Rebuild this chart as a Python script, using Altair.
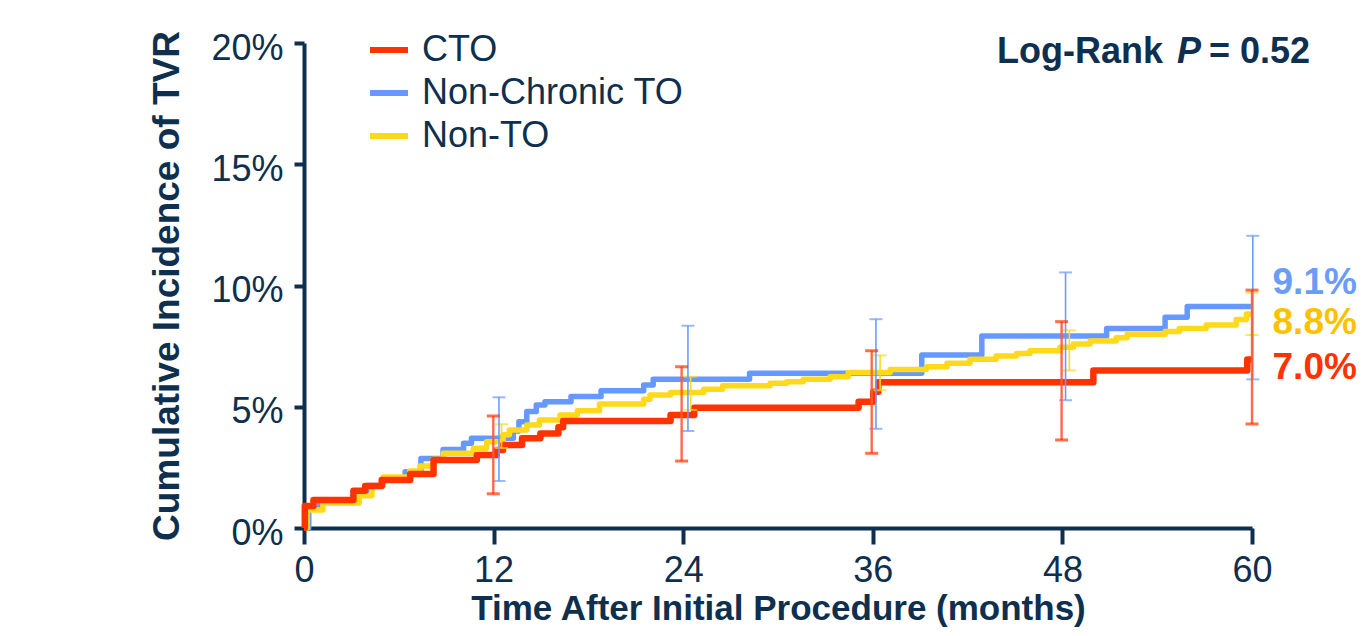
import altair as alt
import pandas as pd

NAVY = "#0e2f4e"
FONT = "Liberation Sans"

series_names = ["CTO", "Non-Chronic TO", "Non-TO"]
line_colors = ["#ff3300", "#6699ff", "#ffd91a"]
label_colors = ["#ff3300", "#6b9cf8", "#ffc000"]

# Kaplan-Meier style step curves (months, cumulative %)
cto_t = [0, 0.05, 0.6, 3.13, 3.87, 4.92, 6.72, 8.2, 10.94, 12.2, 12.6, 13.8, 14.96,
         16.1, 16.4, 23.2, 24.7, 35.1, 36.03, 36.35, 49.96, 59.7, 60]
cto_pct = [0, 0.91, 1.15, 1.54, 1.73, 1.98, 2.23, 2.8, 3.01, 3.22, 3.42, 3.7, 3.9,
           4.15, 4.41, 4.66, 4.96, 5.21, 5.62, 6.01, 6.49, 6.95, 6.95]

nct_t = [0, 0.3, 1.0, 3.1, 4.0, 5.0, 6.4, 7.4, 8.8, 10.1, 10.6, 13.25, 13.6, 14.1,
         14.7, 15.25, 16.9, 18.8, 21.5, 22.1, 28.2, 39.1, 42.9, 50.8, 54.5, 55.9, 60]
nct_pct = [0, 0.8, 1.05, 1.5, 1.75, 1.98, 2.32, 2.87, 3.24, 3.49, 3.7, 4.0, 4.38, 4.8,
           5.07, 5.21, 5.42, 5.66, 5.9, 6.13, 6.38, 7.13, 7.92, 8.23, 8.69, 9.13, 9.13]

nto_t = [0, 0.2, 1.2, 3.5, 4.3, 5.0, 6.7, 7.34, 8.18, 8.82, 10.72, 11.56, 12.6, 13.0,
         14.1, 14.9, 16.2, 17.3, 18.7, 21.5, 21.9, 23.2, 25.3, 26.5, 29.5, 30.55,
         31.6, 33.3, 34.45, 37.1, 39.4, 40.7, 42.15, 43.8, 45.1, 45.95, 47.85, 48.7,
         49.75, 51.4, 52.1, 54.5, 55.4, 57.1, 59.0, 59.65, 60]
nto_pct = [0, 0.74, 1.03, 1.33, 1.74, 2.1, 2.35, 2.56, 2.83, 3.08, 3.29, 3.56, 3.85, 4.04,
           4.25, 4.45, 4.66, 4.84, 5.11, 5.31, 5.48, 5.59, 5.72, 5.87, 5.97, 6.03,
           6.13, 6.24, 6.41, 6.54, 6.65, 6.79, 6.96, 7.09, 7.2, 7.31, 7.45, 7.59,
           7.71, 7.85, 7.99, 8.1, 8.23, 8.37, 8.6, 8.82, 8.82]

# 95% confidence bars at 12, 24, 36, 48, 60 months
cto_err_t = [11.98, 23.9, 35.93, 47.95, 60.0]
cto_err_lo = [1.41, 2.76, 3.08, 3.63, 4.29]
cto_err_hi = [4.62, 6.65, 7.31, 8.51, 9.81]
nct_err_t = [12.34, 24.3, 36.2, 48.2, 60.05]
nct_err_lo = [1.94, 4.0, 4.09, 5.27, 6.13]
nct_err_hi = [5.39, 8.34, 8.61, 10.54, 12.05]
nto_err_t = [12.5, 24.47, 36.46, 48.44, 60.0]
nto_err_lo = [3.3, 4.87, 5.68, 6.5, 7.96]
nto_err_hi = [4.28, 6.24, 7.12, 8.15, 9.7]

end_labels = ["7.0%", "9.1%", "8.8%"]
x_ticks = [0, 12, 24, 36, 48, 60]
y_ticks = [0, 5, 10, 15, 20]

curves = {
    "CTO": (cto_t, cto_pct),
    "Non-Chronic TO": (nct_t, nct_pct),
    "Non-TO": (nto_t, nto_pct),
}
errs = {
    "CTO": (cto_err_t, cto_err_lo, cto_err_hi),
    "Non-Chronic TO": (nct_err_t, nct_err_lo, nct_err_hi),
    "Non-TO": (nto_err_t, nto_err_lo, nto_err_hi),
}

x_scale = alt.Scale(domain=[0, 60], nice=False, zero=False)
y_scale = alt.Scale(domain=[0, 20], nice=False)
color_scale = alt.Scale(domain=series_names, range=line_colors)

x_axis = alt.Axis(values=x_ticks, title="Time After Initial Procedure (months)",
                  tickSize=16, labelPadding=9, titlePadding=3, labelFlush=False,
                  titleFontSize=35)
y_axis = alt.Axis(values=y_ticks, title="Cumulative Incidence of TVR",
                  labelExpr="datum.value + '%'", tickSize=10, labelPadding=11,
                  titlePadding=24, labelFlush=False, labelOffset=5)

legend_def = alt.Legend(orient="none", legendX=63, legendY=-15, title=None,
                        symbolType="stroke", symbolSize=1444, symbolStrokeWidth=6,
                        labelFontSize=36, labelFont=FONT, labelColor=NAVY, labelLimit=0,
                        labelOffset=11, rowPadding=3, padding=0)

layers = []
draw_order = ["Non-Chronic TO", "Non-TO", "CTO"]
widths = {"CTO": 6.5, "Non-Chronic TO": 5.5, "Non-TO": 5.5}
for name in draw_order:
    ts, ps = curves[name]
    df = pd.DataFrame({"t": ts, "pct": ps, "series": name})
    layers.append(
        alt.Chart(df).mark_line(interpolate="step-after", strokeWidth=widths[name],
                                strokeJoin="round")
        .encode(
            x=alt.X("t:Q", scale=x_scale, axis=x_axis),
            y=alt.Y("pct:Q", scale=y_scale, axis=y_axis),
            color=alt.Color("series:N", scale=color_scale, legend=legend_def),
        )
    )

err_style = {
    "Non-TO": dict(rule="#ffd91a", rw=1.6, cap="#ffd91a", cw=2, op=1.0),
    "Non-Chronic TO": dict(rule="#6b9bff", rw=1.6, cap="#6b9bff", cw=2, op=1.0),
    "CTO": dict(rule="#ff5a36", rw=2.4, cap="#ff3300", cw=3, op=0.9),
}
for name in ["Non-TO", "Non-Chronic TO", "CTO"]:
    ts, lo, hi = errs[name]
    st = err_style[name]
    edf = pd.DataFrame({"t": ts, "lo": lo, "hi": hi})
    layers.append(
        alt.Chart(edf).mark_rule(strokeWidth=st["rw"], opacity=st["op"])
        .encode(x=alt.X("t:Q", scale=x_scale), y=alt.Y("lo:Q", scale=y_scale),
                y2="hi:Q", color=alt.value(st["rule"]))
    )
    cdf = pd.DataFrame({"t": ts + ts, "v": lo + hi})
    layers.append(
        alt.Chart(cdf).mark_tick(orient="horizontal", size=13, thickness=st["cw"])
        .encode(x=alt.X("t:Q", scale=x_scale), y=alt.Y("v:Q", scale=y_scale),
                color=alt.value(st["cap"]))
    )

# end-of-curve percentages
lab_df = pd.DataFrame({"t": [61.3, 61.3, 61.3], "pct": [6.6, 10.1, 8.45],
                       "txt": end_labels, "series": series_names})
for i, name in enumerate(series_names):
    layers.append(
        alt.Chart(lab_df.iloc[[i]]).mark_text(align="left", baseline="middle", fontSize=37,
                                              fontWeight="bold", font=FONT,
                                              color=label_colors[i])
        .encode(x=alt.X("t:Q", scale=x_scale), y=alt.Y("pct:Q", scale=y_scale), text="txt:N")
    )

# Log-Rank annotation
lr_df = pd.DataFrame({"t": [54.37, 56.77, 63.67], "pct": [19.18, 19.18, 19.18],
                      "txt": ["Log-Rank", "P", "= 0.52"]})
for i, style in enumerate(["normal", "italic", "normal"]):
    layers.append(
        alt.Chart(lr_df.iloc[[i]]).mark_text(align="right", baseline="alphabetic", fontSize=36,
                                             fontWeight="bold", fontStyle=style, font=FONT,
                                             color=NAVY)
        .encode(x=alt.X("t:Q", scale=x_scale), y=alt.Y("pct:Q", scale=y_scale), text="txt:N")
    )

chart = (
    alt.layer(*layers)
    .properties(width=948, height=485, autosize=alt.AutoSizeParams(type="none"),
                padding={"left": 296, "top": 35, "right": 107, "bottom": 100})
    .configure_view(stroke=None)
    .configure_axis(domainColor=NAVY, domainWidth=4, tickColor=NAVY, tickWidth=4,
                    labelFont=FONT, labelFontSize=36, labelColor=NAVY,
                    titleFont=FONT, titleFontSize=37, titleFontWeight="bold",
                    titleColor=NAVY, grid=False)
)

chart.save("out.html", embed_options={"renderer": "svg", "actions": False})
